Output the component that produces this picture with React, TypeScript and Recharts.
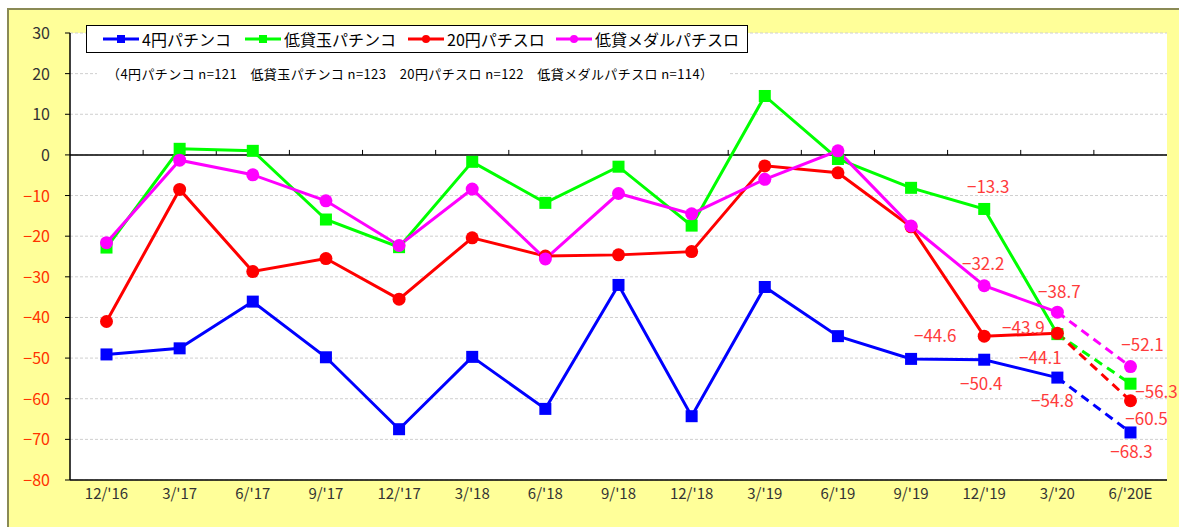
import { LineChart, Line, XAxis, YAxis, CartesianGrid, ReferenceLine, Legend, LabelList } from 'recharts';

const categories = ["12/'16", "3/'17", "6/'17", "9/'17", "12/'17", "3/'18", "6/'18", "9/'18", "12/'18", "3/'19", "6/'19", "9/'19", "12/'19", "3/'20", "6/'20E"];

// 4円パチンコ
const pachinko4 = [-49.1, -47.6, -36.1, -49.8, -67.5, -49.7, -62.5, -32.0, -64.3, -32.5, -44.6, -50.2, -50.4, -54.8, -68.3];
// 低貸玉パチンコ
const lowPachinko = [-22.8, 1.5, 1.0, -15.9, -22.7, -1.7, -11.8, -2.9, -17.4, 14.5, -1.0, -8.1, -13.3, -44.1, -56.3];
// 20円パチスロ
const slot20 = [-41.0, -8.5, -28.7, -25.5, -35.5, -20.4, -24.9, -24.6, -23.8, -2.7, -4.4, -17.7, -44.6, -43.9, -60.5];
// 低貸メダルパチスロ
const lowSlot = [-21.6, -1.3, -4.9, -11.3, -22.3, -8.4, -25.6, -9.5, -14.5, -6.0, 1.0, -17.5, -32.2, -38.7, -52.1];

const yTicks = [30, 20, 10, 0, -10, -20, -30, -40, -50, -60, -70, -80];

const sampleNote = '（4円パチンコ n=121　低貸玉パチンコ n=123　20円パチスロ n=122　低貸メダルパチスロ n=114）';

const FONT = '"Noto Sans CJK JP", "Noto Sans", sans-serif';
const LABEL_RED = '#ff3b3b';

const series = [
  { key: 'p4', name: '4円パチンコ', color: '#0000ff', shape: 'square', values: pachinko4 },
  { key: 'lp', name: '低貸玉パチンコ', color: '#00ff00', shape: 'square', values: lowPachinko },
  { key: 's20', name: '20円パチスロ', color: '#ff0000', shape: 'circle', values: slot20 },
  { key: 'ls', name: '低貸メダルパチスロ', color: '#ff00ff', shape: 'circle', values: lowSlot },
];

// last actual point; the step after it is the forecast (dashed)
const lastActual = 13;

const data = categories.map((cat, i) => {
  const row: any = { cat };
  series.forEach((s) => {
    row[s.key] = i <= lastActual ? s.values[i] : null;
    row[s.key + 'E'] = i >= lastActual ? s.values[i] : null;
  });
  return row;
});

// where the red value labels sit relative to their point
const labelOffsets: Record<string, Record<number, [number, number]>> = {
  p4: { 12: [-3, 23], 13: [-5, 22], 14: [1, 18] },
  lp: { 12: [4, -23], 13: [-17, 22], 14: [26, 7] },
  s20: { 12: [-49, -2], 13: [-34, -7], 14: [16, 17] },
  ls: { 12: [-1, -23], 13: [2, -22], 14: [12, -23] },
};

const fmt = (v: number) => v.toFixed(1).replace('-', '−');

const makeLabel = (key: string, forecast: boolean) => (props: any) => {
  const { x, y, value, index } = props;
  if (value == null) return null;
  if (forecast ? index !== categories.length - 1 : index >= categories.length - 1) return null;
  const off = labelOffsets[key][index];
  if (!off) return null;
  return (
    <text x={x + off[0]} y={y + off[1]} textAnchor="middle" dominantBaseline="central" fill={LABEL_RED} fontSize={17} fontFamily={FONT}>
      {fmt(value)}
    </text>
  );
};

const makeDot = (shape: string, color: string, onlyIndex?: number) => (props: any) => {
  const { cx, cy, index, value } = props;
  const k = `dot-${color}-${index}`;
  if (value == null || cx == null || cy == null) return <g key={k} />;
  if (onlyIndex !== undefined && index !== onlyIndex) return <g key={k} />;
  if (shape === 'square') return <rect key={k} x={cx - 6} y={cy - 6} width={12} height={12} fill={color} />;
  return <circle key={k} cx={cx} cy={cy} r={6.5} fill={color} />;
};

const YTick = (props: any) => {
  const { x, y, payload } = props;
  const v = payload.value;
  return (
    <text x={x} y={y} dy={6} textAnchor="end" fontSize={16} fontFamily={FONT} fill={v < 0 ? '#ff3300' : '#333333'}>
      {v < 0 ? fmt(v).replace('.0', '') : v}
    </text>
  );
};

// zero line with small upward ticks at the category boundaries
const ZeroLine = (props: any) => {
  const { x1, y1, x2, y2 } = props;
  const step = (x2 - x1) / categories.length;
  return (
    <g>
      <line x1={x1} y1={y1} x2={x2} y2={y2} stroke="#000" strokeWidth={1.5} />
      {categories.slice(1).map((c, i) => (
        <line key={c} x1={x1 + step * (i + 1)} y1={y1} x2={x1 + step * (i + 1)} y2={y1 - 5} stroke="#000" strokeWidth={1} />
      ))}
    </g>
  );
};

const legendX = [16, 158, 321, 469];

const renderLegend = () => (
  <div style={{ position: 'relative', width: 662, height: 28, boxSizing: 'border-box', background: '#fff', border: '1.5px solid #000', fontFamily: FONT, fontSize: 16, color: '#000' }}>
    {series.map((s, i) => (
      <div key={s.key} style={{ position: 'absolute', left: legendX[i], top: 0, height: 26, display: 'flex', alignItems: 'center' }}>
        <svg width={36} height={14} style={{ marginRight: 3 }}>
          <line x1={0} y1={7} x2={36} y2={7} stroke={s.color} strokeWidth={3} />
          {s.shape === 'square'
            ? <rect x={14} y={3} width={8} height={8} fill={s.color} />
            : <circle cx={18} cy={7} r={4} fill={s.color} />}
        </svg>
        <span style={{ whiteSpace: 'nowrap' }}>{s.name}</span>
      </div>
    ))}
  </div>
);

export default function App() {
  return (
    <div style={{ position: 'absolute', left: 0, top: 0, width: 1179, height: 527, overflow: 'hidden', background: '#fff' }}>
      <div style={{ position: 'absolute', left: 7, top: 8, right: 0, bottom: 0, background: '#ffff99', borderLeft: '2px solid #8a8a55', borderTop: '2px solid #8a8a55' }} />
      <div style={{ position: 'absolute', left: 0, top: 0 }}>
        <LineChart width={1179} height={527} data={data} margin={{ top: 33, right: 12, bottom: 0, left: 0 }}>
          <CartesianGrid vertical={false} fill="#ffffff" stroke="#cfcfcf" strokeDasharray="3 2" />
          <XAxis
            dataKey="cat"
            height={47}
            interval={0}
            padding={{ left: 36.5, right: 36.5 }}
            axisLine={{ stroke: '#000', strokeWidth: 1.5 }}
            tickLine={false}
            tickSize={0}
            tickMargin={8}
            tick={{ fontSize: 15, fill: '#333333', fontFamily: FONT }}
          />
          <XAxis xAxisId="top" dataKey="cat" orientation="top" height={0} tick={false} tickLine={false} axisLine={{ stroke: '#8c8c8c', strokeWidth: 2 }} />
          <YAxis
            width={70}
            domain={[-80, 30]}
            ticks={yTicks}
            interval={0}
            axisLine={{ stroke: '#000', strokeWidth: 1.5 }}
            tickLine={{ stroke: '#000' }}
            tickSize={5}
            tickMargin={15}
            tick={<YTick />}
          />
          <YAxis yAxisId="right" orientation="right" width={0} domain={[-80, 30]} tick={false} tickLine={false} axisLine={{ stroke: '#8c8c8c', strokeWidth: 2 }} />
          <ReferenceLine y={0} shape={<ZeroLine />} />
          <Legend layout="vertical" verticalAlign="middle" align="center" content={renderLegend} wrapperStyle={{ left: 86, top: 25, width: 662, height: 28 }} />
          {series.map((s) => (
            <Line
              key={s.key}
              dataKey={s.key}
              name={s.name}
              stroke={s.color}
              strokeWidth={3}
              dot={makeDot(s.shape, s.color)}
              activeDot={false}
              isAnimationActive={false}
              connectNulls={false}
            >
              <LabelList dataKey={s.key} content={makeLabel(s.key, false)} />
            </Line>
          ))}
          {series.map((s) => (
            <Line
              key={s.key + 'E'}
              dataKey={s.key + 'E'}
              legendType="none"
              stroke={s.color}
              strokeWidth={3}
              strokeDasharray="9 6"
              dot={makeDot(s.shape, s.color, categories.length - 1)}
              activeDot={false}
              isAnimationActive={false}
            >
              <LabelList dataKey={s.key + 'E'} content={makeLabel(s.key, true)} />
            </Line>
          ))}
        </LineChart>
      </div>
      <svg style={{ position: 'absolute', left: 97, top: 64 }} width={632} height={20}>
        <rect x={0} y={0} width={632} height={20} fill="#fff" />
        <text x={10} y={14.5} textLength={606} lengthAdjust="spacing" fontSize={13} fontFamily={FONT} fill="#000">
          {sampleNote}
        </text>
      </svg>
    </div>
  );
}
